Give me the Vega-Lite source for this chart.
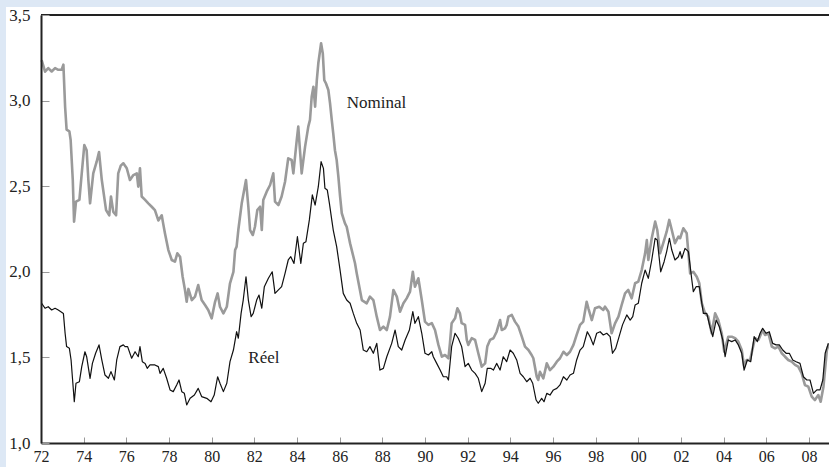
{
  "$schema": "https://vega.github.io/schema/vega-lite/v6.json",
  "width": 788,
  "height": 428,
  "autosize": {"type": "none"},
  "padding": {"left": 41, "top": 15, "right": 0, "bottom": 24},
  "background": "#dde8f5",
  "config": {"view": {"stroke": null}, "font": "Liberation Serif", "axis": {"labelFont": "Liberation Serif"}, "text": {"font": "Liberation Serif"}},
  "datasets": {
    "nominal": [
      {"t":1972.03,"v":3.237},{"t":1972.19,"v":3.169},{"t":1972.34,"v":3.19},{"t":1972.5,"v":3.17},{"t":1972.66,"v":3.19},{"t":1972.81,"v":3.18},{"t":1972.97,"v":3.18},{"t":1973.05,"v":3.21},{"t":1973.13,"v":2.964},{"t":1973.2,"v":2.83},{"t":1973.33,"v":2.82},{"t":1973.39,"v":2.77},{"t":1973.49,"v":2.536},{"t":1973.55,"v":2.293},{"t":1973.64,"v":2.41},{"t":1973.8,"v":2.42},{"t":1973.91,"v":2.575},{"t":1974.03,"v":2.74},{"t":1974.14,"v":2.71},{"t":1974.22,"v":2.536},{"t":1974.3,"v":2.4},{"t":1974.45,"v":2.575},{"t":1974.61,"v":2.643},{"t":1974.72,"v":2.7},{"t":1974.85,"v":2.536},{"t":1975.05,"v":2.36},{"t":1975.2,"v":2.33},{"t":1975.28,"v":2.44},{"t":1975.39,"v":2.35},{"t":1975.52,"v":2.33},{"t":1975.62,"v":2.575},{"t":1975.74,"v":2.62},{"t":1975.86,"v":2.634},{"t":1976.02,"v":2.605},{"t":1976.17,"v":2.536},{"t":1976.33,"v":2.565},{"t":1976.49,"v":2.575},{"t":1976.56,"v":2.497},{"t":1976.64,"v":2.605},{"t":1976.72,"v":2.44},{"t":1976.88,"v":2.42},{"t":1977.03,"v":2.4},{"t":1977.19,"v":2.38},{"t":1977.34,"v":2.36},{"t":1977.5,"v":2.3},{"t":1977.66,"v":2.33},{"t":1977.73,"v":2.28},{"t":1977.81,"v":2.225},{"t":1977.97,"v":2.127},{"t":1978.13,"v":2.069},{"t":1978.28,"v":2.059},{"t":1978.39,"v":2.108},{"t":1978.52,"v":2.088},{"t":1978.64,"v":1.971},{"t":1978.75,"v":1.894},{"t":1978.83,"v":1.825},{"t":1978.91,"v":1.9},{"t":1979.07,"v":1.835},{"t":1979.22,"v":1.855},{"t":1979.37,"v":1.923},{"t":1979.53,"v":1.835},{"t":1979.69,"v":1.806},{"t":1979.84,"v":1.777},{"t":1980.0,"v":1.728},{"t":1980.16,"v":1.825},{"t":1980.28,"v":1.874},{"t":1980.39,"v":1.796},{"t":1980.55,"v":1.757},{"t":1980.71,"v":1.796},{"t":1980.86,"v":1.933},{"t":1981.02,"v":2.0},{"t":1981.1,"v":2.127},{"t":1981.17,"v":2.147},{"t":1981.25,"v":2.244},{"t":1981.41,"v":2.4},{"t":1981.61,"v":2.536},{"t":1981.72,"v":2.38},{"t":1981.8,"v":2.244},{"t":1981.93,"v":2.215},{"t":1982.03,"v":2.263},{"t":1982.14,"v":2.36},{"t":1982.27,"v":2.38},{"t":1982.35,"v":2.244},{"t":1982.42,"v":2.42},{"t":1982.58,"v":2.468},{"t":1982.74,"v":2.507},{"t":1982.89,"v":2.575},{"t":1982.97,"v":2.41},{"t":1983.13,"v":2.39},{"t":1983.28,"v":2.44},{"t":1983.44,"v":2.526},{"t":1983.59,"v":2.663},{"t":1983.75,"v":2.653},{"t":1983.83,"v":2.575},{"t":1983.99,"v":2.77},{"t":1984.06,"v":2.848},{"t":1984.14,"v":2.71},{"t":1984.22,"v":2.575},{"t":1984.38,"v":2.731},{"t":1984.53,"v":2.848},{"t":1984.61,"v":2.887},{"t":1984.69,"v":3.023},{"t":1984.77,"v":3.081},{"t":1984.85,"v":2.964},{"t":1984.93,"v":3.12},{"t":1985.0,"v":3.218},{"t":1985.13,"v":3.335},{"t":1985.21,"v":3.276},{"t":1985.28,"v":3.12},{"t":1985.36,"v":3.1},{"t":1985.47,"v":3.062},{"t":1985.55,"v":2.984},{"t":1985.63,"v":2.887},{"t":1985.7,"v":2.809},{"t":1985.78,"v":2.71},{"t":1985.86,"v":2.653},{"t":1985.94,"v":2.556},{"t":1986.02,"v":2.44},{"t":1986.1,"v":2.342},{"t":1986.25,"v":2.283},{"t":1986.33,"v":2.263},{"t":1986.49,"v":2.166},{"t":1986.72,"v":2.05},{"t":1986.8,"v":1.991},{"t":1987.04,"v":1.835},{"t":1987.27,"v":1.816},{"t":1987.42,"v":1.855},{"t":1987.58,"v":1.835},{"t":1987.74,"v":1.738},{"t":1987.89,"v":1.66},{"t":1988.05,"v":1.68},{"t":1988.21,"v":1.66},{"t":1988.36,"v":1.738},{"t":1988.52,"v":1.894},{"t":1988.68,"v":1.855},{"t":1988.83,"v":1.767},{"t":1988.99,"v":1.816},{"t":1989.14,"v":1.845},{"t":1989.3,"v":1.884},{"t":1989.43,"v":2.0},{"t":1989.53,"v":1.913},{"t":1989.69,"v":1.962},{"t":1989.85,"v":1.835},{"t":1990.0,"v":1.709},{"t":1990.16,"v":1.69},{"t":1990.32,"v":1.7},{"t":1990.47,"v":1.66},{"t":1990.63,"v":1.573},{"t":1990.79,"v":1.504},{"t":1990.94,"v":1.514},{"t":1991.1,"v":1.495},{"t":1991.17,"v":1.582},{"t":1991.25,"v":1.7},{"t":1991.41,"v":1.728},{"t":1991.52,"v":1.787},{"t":1991.64,"v":1.757},{"t":1991.72,"v":1.7},{"t":1991.88,"v":1.69},{"t":1991.96,"v":1.602},{"t":1992.03,"v":1.573},{"t":1992.19,"v":1.612},{"t":1992.35,"v":1.602},{"t":1992.5,"v":1.524},{"t":1992.66,"v":1.446},{"t":1992.82,"v":1.465},{"t":1992.92,"v":1.563},{"t":1993.05,"v":1.602},{"t":1993.21,"v":1.612},{"t":1993.36,"v":1.65},{"t":1993.52,"v":1.718},{"t":1993.6,"v":1.66},{"t":1993.75,"v":1.67},{"t":1993.83,"v":1.69},{"t":1993.91,"v":1.738},{"t":1994.07,"v":1.748},{"t":1994.22,"v":1.709},{"t":1994.38,"v":1.68},{"t":1994.54,"v":1.621},{"t":1994.69,"v":1.563},{"t":1994.85,"v":1.543},{"t":1995.0,"v":1.514},{"t":1995.08,"v":1.495},{"t":1995.24,"v":1.387},{"t":1995.31,"v":1.368},{"t":1995.39,"v":1.416},{"t":1995.55,"v":1.378},{"t":1995.71,"v":1.465},{"t":1995.86,"v":1.426},{"t":1996.02,"v":1.446},{"t":1996.18,"v":1.475},{"t":1996.33,"v":1.495},{"t":1996.49,"v":1.533},{"t":1996.65,"v":1.514},{"t":1996.8,"v":1.533},{"t":1996.96,"v":1.573},{"t":1997.11,"v":1.631},{"t":1997.27,"v":1.69},{"t":1997.42,"v":1.709},{"t":1997.58,"v":1.825},{"t":1997.66,"v":1.787},{"t":1997.82,"v":1.718},{"t":1997.97,"v":1.787},{"t":1998.17,"v":1.796},{"t":1998.36,"v":1.777},{"t":1998.44,"v":1.796},{"t":1998.6,"v":1.767},{"t":1998.75,"v":1.641},{"t":1998.91,"v":1.699},{"t":1999.07,"v":1.738},{"t":1999.22,"v":1.806},{"t":1999.38,"v":1.874},{"t":1999.53,"v":1.894},{"t":1999.69,"v":1.845},{"t":1999.85,"v":1.933},{"t":2000.0,"v":1.943},{"t":2000.16,"v":2.01},{"t":2000.32,"v":2.108},{"t":2000.4,"v":2.185},{"t":2000.47,"v":2.069},{"t":2000.63,"v":2.196},{"t":2000.79,"v":2.293},{"t":2000.89,"v":2.244},{"t":2001.02,"v":2.108},{"t":2001.17,"v":2.167},{"t":2001.33,"v":2.234},{"t":2001.45,"v":2.303},{"t":2001.57,"v":2.244},{"t":2001.72,"v":2.167},{"t":2001.88,"v":2.205},{"t":2001.96,"v":2.196},{"t":2002.11,"v":2.254},{"t":2002.27,"v":2.225},{"t":2002.43,"v":1.991},{"t":2002.58,"v":2.0},{"t":2002.74,"v":1.971},{"t":2002.86,"v":1.933},{"t":2002.98,"v":1.816},{"t":2003.13,"v":1.757},{"t":2003.28,"v":1.738},{"t":2003.44,"v":1.641},{"t":2003.6,"v":1.757},{"t":2003.75,"v":1.718},{"t":2003.91,"v":1.641},{"t":2004.03,"v":1.533},{"t":2004.22,"v":1.621},{"t":2004.38,"v":1.621},{"t":2004.54,"v":1.612},{"t":2004.69,"v":1.592},{"t":2004.85,"v":1.543},{"t":2004.96,"v":1.446},{"t":2005.08,"v":1.485},{"t":2005.24,"v":1.485},{"t":2005.47,"v":1.612},{"t":2005.63,"v":1.602},{"t":2005.83,"v":1.66},{"t":2005.94,"v":1.631},{"t":2006.1,"v":1.641},{"t":2006.26,"v":1.563},{"t":2006.41,"v":1.553},{"t":2006.57,"v":1.563},{"t":2006.73,"v":1.524},{"t":2006.88,"v":1.504},{"t":2007.03,"v":1.485},{"t":2007.19,"v":1.475},{"t":2007.35,"v":1.456},{"t":2007.5,"v":1.446},{"t":2007.66,"v":1.407},{"t":2007.81,"v":1.339},{"t":2007.97,"v":1.329},{"t":2008.13,"v":1.271},{"t":2008.28,"v":1.251},{"t":2008.44,"v":1.28},{"t":2008.55,"v":1.241},{"t":2008.68,"v":1.329},{"t":2008.84,"v":1.543},{"t":2008.94,"v":1.582}
    ],
    "reel": [
      {"t":1972.03,"v":1.816},{"t":1972.19,"v":1.787},{"t":1972.34,"v":1.796},{"t":1972.5,"v":1.777},{"t":1972.66,"v":1.787},{"t":1972.81,"v":1.777},{"t":1973.05,"v":1.757},{"t":1973.13,"v":1.641},{"t":1973.2,"v":1.563},{"t":1973.33,"v":1.553},{"t":1973.41,"v":1.485},{"t":1973.47,"v":1.387},{"t":1973.56,"v":1.241},{"t":1973.64,"v":1.349},{"t":1973.8,"v":1.358},{"t":1973.91,"v":1.446},{"t":1974.06,"v":1.533},{"t":1974.14,"v":1.504},{"t":1974.3,"v":1.378},{"t":1974.41,"v":1.465},{"t":1974.56,"v":1.524},{"t":1974.72,"v":1.573},{"t":1974.85,"v":1.485},{"t":1975.0,"v":1.397},{"t":1975.16,"v":1.378},{"t":1975.28,"v":1.417},{"t":1975.44,"v":1.368},{"t":1975.55,"v":1.485},{"t":1975.7,"v":1.563},{"t":1975.86,"v":1.573},{"t":1975.94,"v":1.563},{"t":1976.06,"v":1.563},{"t":1976.25,"v":1.495},{"t":1976.41,"v":1.533},{"t":1976.56,"v":1.504},{"t":1976.64,"v":1.563},{"t":1976.75,"v":1.475},{"t":1976.88,"v":1.465},{"t":1976.98,"v":1.436},{"t":1977.11,"v":1.456},{"t":1977.34,"v":1.456},{"t":1977.5,"v":1.446},{"t":1977.58,"v":1.407},{"t":1977.73,"v":1.436},{"t":1977.89,"v":1.378},{"t":1978.05,"v":1.31},{"t":1978.2,"v":1.3},{"t":1978.36,"v":1.339},{"t":1978.47,"v":1.368},{"t":1978.6,"v":1.3},{"t":1978.72,"v":1.29},{"t":1978.83,"v":1.222},{"t":1978.99,"v":1.261},{"t":1979.19,"v":1.28},{"t":1979.37,"v":1.319},{"t":1979.53,"v":1.271},{"t":1979.77,"v":1.261},{"t":1979.97,"v":1.241},{"t":1980.12,"v":1.28},{"t":1980.28,"v":1.387},{"t":1980.39,"v":1.349},{"t":1980.55,"v":1.3},{"t":1980.71,"v":1.349},{"t":1980.86,"v":1.475},{"t":1981.02,"v":1.543},{"t":1981.17,"v":1.65},{"t":1981.25,"v":1.612},{"t":1981.38,"v":1.757},{"t":1981.48,"v":1.835},{"t":1981.61,"v":1.971},{"t":1981.72,"v":1.835},{"t":1981.85,"v":1.738},{"t":1981.95,"v":1.757},{"t":1982.11,"v":1.835},{"t":1982.22,"v":1.864},{"t":1982.35,"v":1.787},{"t":1982.47,"v":1.913},{"t":1982.66,"v":1.962},{"t":1982.84,"v":2.0},{"t":1982.97,"v":1.874},{"t":1983.13,"v":1.894},{"t":1983.28,"v":1.913},{"t":1983.44,"v":1.991},{"t":1983.59,"v":2.069},{"t":1983.71,"v":2.088},{"t":1983.86,"v":2.049},{"t":1984.02,"v":2.205},{"t":1984.18,"v":2.049},{"t":1984.3,"v":2.167},{"t":1984.42,"v":2.176},{"t":1984.58,"v":2.303},{"t":1984.72,"v":2.449},{"t":1984.85,"v":2.39},{"t":1985.0,"v":2.497},{"t":1985.13,"v":2.643},{"t":1985.24,"v":2.604},{"t":1985.31,"v":2.488},{"t":1985.42,"v":2.478},{"t":1985.52,"v":2.4},{"t":1985.63,"v":2.303},{"t":1985.7,"v":2.244},{"t":1985.86,"v":2.147},{"t":1986.02,"v":2.01},{"t":1986.17,"v":1.874},{"t":1986.33,"v":1.835},{"t":1986.49,"v":1.816},{"t":1986.64,"v":1.757},{"t":1986.8,"v":1.699},{"t":1986.96,"v":1.66},{"t":1987.11,"v":1.543},{"t":1987.27,"v":1.533},{"t":1987.42,"v":1.563},{"t":1987.58,"v":1.524},{"t":1987.74,"v":1.582},{"t":1987.89,"v":1.426},{"t":1988.05,"v":1.436},{"t":1988.21,"v":1.504},{"t":1988.44,"v":1.582},{"t":1988.6,"v":1.66},{"t":1988.75,"v":1.563},{"t":1988.91,"v":1.543},{"t":1989.07,"v":1.602},{"t":1989.27,"v":1.66},{"t":1989.43,"v":1.767},{"t":1989.53,"v":1.699},{"t":1989.69,"v":1.738},{"t":1989.85,"v":1.641},{"t":1990.0,"v":1.524},{"t":1990.16,"v":1.514},{"t":1990.32,"v":1.533},{"t":1990.39,"v":1.504},{"t":1990.55,"v":1.465},{"t":1990.71,"v":1.426},{"t":1990.86,"v":1.387},{"t":1991.02,"v":1.387},{"t":1991.1,"v":1.368},{"t":1991.25,"v":1.563},{"t":1991.41,"v":1.641},{"t":1991.56,"v":1.612},{"t":1991.72,"v":1.563},{"t":1991.88,"v":1.446},{"t":1992.03,"v":1.465},{"t":1992.19,"v":1.426},{"t":1992.35,"v":1.407},{"t":1992.5,"v":1.378},{"t":1992.66,"v":1.3},{"t":1992.82,"v":1.349},{"t":1992.92,"v":1.436},{"t":1993.08,"v":1.436},{"t":1993.21,"v":1.426},{"t":1993.36,"v":1.465},{"t":1993.52,"v":1.426},{"t":1993.67,"v":1.504},{"t":1993.83,"v":1.475},{"t":1993.99,"v":1.543},{"t":1994.14,"v":1.524},{"t":1994.3,"v":1.485},{"t":1994.46,"v":1.407},{"t":1994.61,"v":1.387},{"t":1994.77,"v":1.358},{"t":1994.93,"v":1.378},{"t":1995.05,"v":1.349},{"t":1995.21,"v":1.251},{"t":1995.31,"v":1.232},{"t":1995.47,"v":1.261},{"t":1995.58,"v":1.241},{"t":1995.71,"v":1.29},{"t":1995.86,"v":1.28},{"t":1996.02,"v":1.31},{"t":1996.18,"v":1.319},{"t":1996.33,"v":1.339},{"t":1996.49,"v":1.387},{"t":1996.65,"v":1.368},{"t":1996.8,"v":1.397},{"t":1996.96,"v":1.407},{"t":1997.11,"v":1.485},{"t":1997.27,"v":1.543},{"t":1997.42,"v":1.563},{"t":1997.61,"v":1.65},{"t":1997.74,"v":1.621},{"t":1997.89,"v":1.573},{"t":1998.05,"v":1.641},{"t":1998.21,"v":1.65},{"t":1998.36,"v":1.631},{"t":1998.52,"v":1.641},{"t":1998.68,"v":1.621},{"t":1998.79,"v":1.524},{"t":1998.94,"v":1.553},{"t":1999.1,"v":1.621},{"t":1999.26,"v":1.69},{"t":1999.46,"v":1.748},{"t":1999.62,"v":1.718},{"t":1999.74,"v":1.738},{"t":1999.85,"v":1.806},{"t":2000.0,"v":1.816},{"t":2000.16,"v":1.933},{"t":2000.32,"v":2.01},{"t":2000.47,"v":1.962},{"t":2000.63,"v":2.069},{"t":2000.79,"v":2.196},{"t":2000.89,"v":2.185},{"t":2001.05,"v":2.0},{"t":2001.21,"v":2.059},{"t":2001.33,"v":2.118},{"t":2001.46,"v":2.196},{"t":2001.57,"v":2.127},{"t":2001.72,"v":2.069},{"t":2001.88,"v":2.088},{"t":2001.96,"v":2.118},{"t":2002.04,"v":2.079},{"t":2002.19,"v":2.137},{"t":2002.35,"v":2.118},{"t":2002.51,"v":1.952},{"t":2002.58,"v":1.884},{"t":2002.71,"v":1.913},{"t":2002.86,"v":1.913},{"t":2003.05,"v":1.757},{"t":2003.21,"v":1.757},{"t":2003.36,"v":1.679},{"t":2003.49,"v":1.621},{"t":2003.65,"v":1.718},{"t":2003.8,"v":1.679},{"t":2003.96,"v":1.602},{"t":2004.07,"v":1.504},{"t":2004.22,"v":1.602},{"t":2004.38,"v":1.592},{"t":2004.54,"v":1.602},{"t":2004.69,"v":1.573},{"t":2004.85,"v":1.524},{"t":2004.96,"v":1.426},{"t":2005.11,"v":1.485},{"t":2005.27,"v":1.475},{"t":2005.43,"v":1.621},{"t":2005.58,"v":1.592},{"t":2005.71,"v":1.641},{"t":2005.83,"v":1.67},{"t":2005.99,"v":1.641},{"t":2006.14,"v":1.65},{"t":2006.3,"v":1.582},{"t":2006.46,"v":1.573},{"t":2006.61,"v":1.573},{"t":2006.77,"v":1.543},{"t":2006.93,"v":1.524},{"t":2007.08,"v":1.524},{"t":2007.24,"v":1.485},{"t":2007.4,"v":1.475},{"t":2007.58,"v":1.465},{"t":2007.74,"v":1.387},{"t":2007.9,"v":1.368},{"t":2008.05,"v":1.368},{"t":2008.21,"v":1.29},{"t":2008.37,"v":1.31},{"t":2008.52,"v":1.31},{"t":2008.65,"v":1.368},{"t":2008.76,"v":1.524},{"t":2008.91,"v":1.582}
    ],
    "labels": [
      {"t":1987.73,"v":2.988,"label":"Nominal"},
      {"t":1982.45,"v":1.497,"label":"Réel"}
    ]
  },
  "layer": [
    {
      "data": {"values": [{}]},
      "mark": {"type": "rect", "color": "white", "clip": false},
      "encoding": {
        "x": {"datum": 1970.36, "type": "quantitative", "scale": {"domain": [1972, 2008.94], "nice": false, "zero": false}},
        "x2": {"datum": 2010},
        "y": {"datum": 3.547, "type": "quantitative", "scale": {"domain": [1, 3.5], "nice": false, "zero": false}},
        "y2": {"datum": 0.85}
      }
    },
    {
      "data": {"name": "nominal"},
      "mark": {"type": "line", "color": "#9a9a9a", "strokeWidth": 2.6, "strokeJoin": "round"},
      "encoding": {
        "x": {"field": "t", "type": "quantitative",
          "scale": {"domain": [1972, 2008.94], "nice": false, "zero": false},
          "axis": {"values": [1972,1973,1974,1975,1976,1977,1978,1979,1980,1981,1982,1983,1984,1985,1986,1987,1988,1989,1990,1991,1992,1993,1994,1995,1996,1997,1998,1999,2000,2001,2002,2003,2004,2005,2006,2007,2008],
            "labelExpr": "datum.value % 2 == 0 ? ((datum.value % 100) < 10 ? '0' : '') + (datum.value % 100) : ''",
            "tickSize": -6, "tickColor": "#999999", "tickWidth": 1,
            "domainColor": "#222222", "domainWidth": 2,
            "labelPadding": 11, "labelFontSize": 16, "labelColor": "#222222", "labelFont": "Liberation Serif",
            "labelFlush": false, "labelOverlap": false, "labelBound": false,
            "grid": false, "title": null, "zindex": 1}},
        "y": {"field": "v", "type": "quantitative",
          "scale": {"domain": [1, 3.5], "nice": false, "zero": false},
          "axis": {"values": [1, 1.5, 2, 2.5, 3, 3.5],
            "labelExpr": "replace(format(datum.value, '.1f'), '.', ',')",
            "tickSize": -8, "tickColor": "#999999", "tickWidth": 1,
            "domainColor": "#222222", "domainWidth": 2,
            "labelPadding": 19, "labelFontSize": 17, "labelColor": "#222222", "labelFont": "Liberation Serif",
            "labelOverlap": false, "labelBound": false,
            "grid": false, "title": null, "zindex": 1}}
      }
    },
    {
      "data": {"name": "reel"},
      "mark": {"type": "line", "color": "#111111", "strokeWidth": 1.2, "strokeJoin": "round"},
      "encoding": {
        "x": {"field": "t", "type": "quantitative", "scale": {"domain": [1972, 2008.94], "nice": false, "zero": false}},
        "y": {"field": "v", "type": "quantitative", "scale": {"domain": [1, 3.5], "nice": false, "zero": false}}
      }
    },
    {
      "data": {"values": [{}]},
      "mark": {"type": "rule", "color": "#222222", "strokeWidth": 2},
      "encoding": {
        "y": {"datum": 3.5, "type": "quantitative", "scale": {"domain": [1, 3.5], "nice": false, "zero": false}}
      }
    },
    {
      "data": {"name": "labels"},
      "mark": {"type": "text", "fontSize": 17, "font": "Liberation Serif", "color": "#222222", "align": "center", "baseline": "middle"},
      "encoding": {
        "x": {"field": "t", "type": "quantitative", "scale": {"domain": [1972, 2008.94], "nice": false, "zero": false}},
        "y": {"field": "v", "type": "quantitative", "scale": {"domain": [1, 3.5], "nice": false, "zero": false}},
        "text": {"field": "label", "type": "nominal"}
      }
    }
  ]
}
